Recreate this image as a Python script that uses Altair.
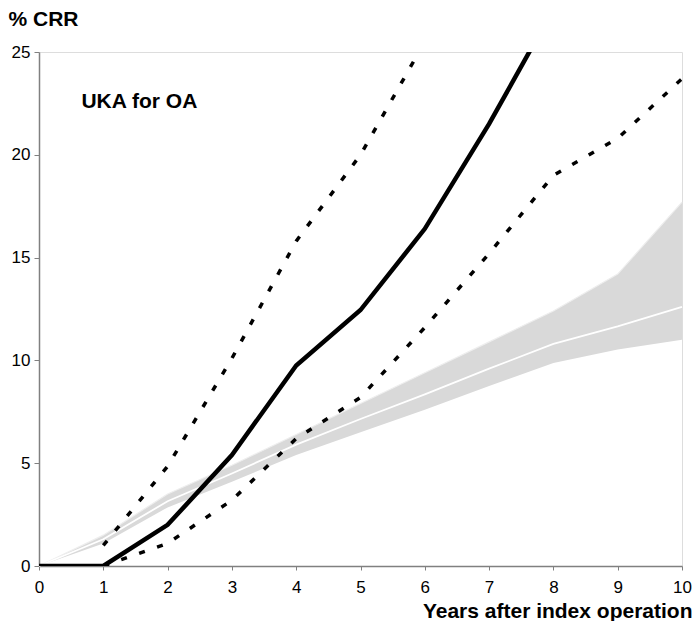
import altair as alt
import pandas as pd

# ---- data ----
years = [0, 1, 2, 3, 4, 5, 6, 7, 8, 9, 10]
band_upper = [0, 1.5, 3.5, 4.9, 6.4, 7.9, 9.4, 10.9, 12.4, 14.2, 17.7]
band_mid = [0, 1.3, 3.15, 4.5, 5.9, 7.15, 8.35, 9.6, 10.8, 11.65, 12.6]
band_lower = [0, 1.1, 2.85, 4.1, 5.4, 6.5, 7.6, 8.75, 9.87, 10.53, 11.0]

crr_years = [0, 1, 2, 3, 4, 5, 6, 7, 8]
crr = [0, 0, 2.0, 5.4, 9.75, 12.45, 16.4, 21.5, 27.1]

ci_up_years = [1, 2, 3, 4, 5, 6]
ci_up = [1.0, 4.85, 10.1, 15.8, 20.0, 25.5]

ci_lo_years = [1, 2, 3, 4, 5, 6, 7, 8, 9, 10]
ci_lo = [0, 1.1, 3.2, 6.2, 8.2, 11.6, 15.2, 19.0, 20.8, 23.7]

label_text = ["UKA for OA"]
label_x = [0.66]
label_y = [22.28]

x_ticks = [i * 0.5 for i in range(21)]
y_ticks = [0, 5, 10, 15, 20, 25]

band_df = pd.DataFrame({"year": years, "lo": band_lower, "hi": band_upper, "mid": band_mid})
crr_df = pd.DataFrame({"year": crr_years, "v": crr})
up_df = pd.DataFrame({"year": ci_up_years, "v": ci_up})
lo_df = pd.DataFrame({"year": ci_lo_years, "v": ci_lo})
lab_df = pd.DataFrame({"t": label_text, "x": label_x, "y": label_y})

FONT = "Liberation Sans"

xscale = alt.Scale(domain=[0, 10], nice=False, zero=False)
yscale = alt.Scale(domain=[0, 25], nice=False)

xaxis = alt.Axis(
    values=x_ticks,
    labelExpr="datum.value % 1 == 0 ? format(datum.value, 'd') : ''",
    title="Years after index operation",
    titleFont=FONT, titleFontSize=21, titleFontWeight="bold", titleColor="black",
    titleAngle=0, titleAlign="right", titleBaseline="alphabetic",
    titleX=653, titleY=51,
    labelFont=FONT, labelFontSize=17, labelColor="black", labelPadding=9,
    labelFlush=False, labelOverlap=False,
    tickSize=4, tickColor="#808080", domainColor="#808080", domainWidth=1.5,
    grid=False,
)
yaxis = alt.Axis(
    values=y_ticks,
    title="% CRR",
    titleFont=FONT, titleFontSize=21, titleFontWeight="bold", titleColor="black",
    titleAngle=0, titleAlign="left", titleBaseline="alphabetic",
    titleX=-31, titleY=-27,
    labelFont=FONT, labelFontSize=17, labelColor="black", labelPadding=4,
    labelFlush=False,
    tickSize=5, tickColor="#808080", domainColor="#808080", domainWidth=1.5,
    grid=False,
)

base_x = alt.X("year:Q", scale=xscale, axis=xaxis)

band = alt.Chart(band_df).mark_area(color="#d9d9d9", opacity=1).encode(
    x=base_x,
    y=alt.Y("lo:Q", scale=yscale, axis=yaxis),
    y2="hi:Q",
)
band_edge = alt.Chart(band_df).mark_line(color="#eeeeee", strokeWidth=1.2).encode(
    x=alt.X("year:Q", scale=xscale), y=alt.Y("hi:Q", scale=yscale)
)
band_mid_line = alt.Chart(band_df).mark_line(color="white", strokeWidth=1.8).encode(
    x=alt.X("year:Q", scale=xscale), y=alt.Y("mid:Q", scale=yscale)
)
up_line = alt.Chart(up_df).mark_line(
    color="black", strokeWidth=3.5, strokeDash=[6, 13], clip=True
).encode(x=alt.X("year:Q", scale=xscale), y=alt.Y("v:Q", scale=yscale))
lo_line = alt.Chart(lo_df).mark_line(
    color="black", strokeWidth=3.5, strokeDash=[6, 13], clip=True
).encode(x=alt.X("year:Q", scale=xscale), y=alt.Y("v:Q", scale=yscale))
crr_line = alt.Chart(crr_df).mark_line(color="black", strokeWidth=4.5, clip=True).encode(
    x=alt.X("year:Q", scale=xscale), y=alt.Y("v:Q", scale=yscale)
)
label = alt.Chart(lab_df).mark_text(
    font=FONT, fontSize=21, fontWeight="bold", align="left", baseline="alphabetic", color="black"
).encode(x=alt.X("x:Q", scale=xscale), y=alt.Y("y:Q", scale=yscale), text="t:N")

chart = alt.layer(band, band_edge, band_mid_line, lo_line, up_line, crr_line, label).properties(
    width=643,
    height=514,
    autosize=alt.AutoSizeParams(type="none"),
    padding={"left": 31, "top": 44, "right": 10, "bottom": 55},
).configure_view(stroke=None).configure(background="white")

chart.save("out.html", embed_options={"renderer": "svg", "actions": False})
